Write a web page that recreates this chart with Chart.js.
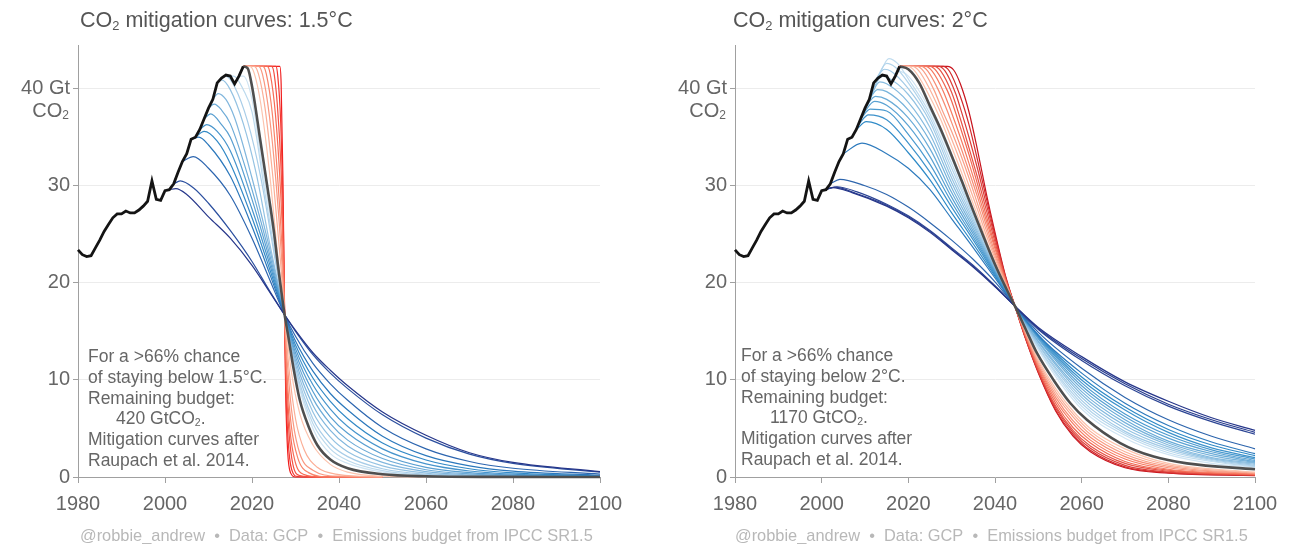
<!DOCTYPE html>
<html>
<head>
<meta charset="utf-8">
<script src="https://cdn.jsdelivr.net/npm/chart.js@4.4.1/dist/chart.umd.min.js"></script>
<style>
  body { margin: 0; background: #fff; }
  #wrap { position: relative; width: 1295px; height: 544px; background: #fff; font-family: "Liberation Sans", Arial, sans-serif; }
  canvas { position: absolute; top: 0; }
  .txt { position: absolute; white-space: nowrap; }
  .title { top: 8px; font-size: 21.5px; line-height: 24px; color: #555; }
  .note { font-size: 17.5px; line-height: 20.8px; color: #666; }
  .foot { top: 525px; font-size: 16.4px; line-height: 20px; color: #b8b8b8; }
  .unit { font-size: 20px; line-height: 22px; color: #666; text-align: right; width: 60px; }
  sub { font-size: 0.6em; vertical-align: -0.2em; line-height: 0; }
</style>
</head>
<body>
<div id="wrap">
  <canvas id="c15" width="647" height="544" style="left:0"></canvas>
  <canvas id="c20" width="648" height="544" style="left:647px"></canvas>

  <div class="txt title" style="left:80px">CO<sub>2</sub> mitigation curves: 1.5°C</div>
  <div class="txt title" style="left:733px">CO<sub>2</sub> mitigation curves: 2°C</div>

  <div class="txt unit" style="left:9px; top:99px">CO<sub>2</sub></div>
  <div class="txt unit" style="left:666px; top:99px">CO<sub>2</sub></div>

  <div class="txt note" style="left:88px; top:346px">For a &gt;66% chance<br>of staying below 1.5°C.<br>Remaining budget:<br><span style="padding-left:28px">420 GtCO<sub>2</sub>.</span><br>Mitigation curves after<br>Raupach et al. 2014.</div>
  <div class="txt note" style="left:741px; top:345px">For a &gt;66% chance<br>of staying below 2°C.<br>Remaining budget:<br><span style="padding-left:29px">1170 GtCO<sub>2</sub>.</span><br>Mitigation curves after<br>Raupach et al. 2014.</div>

  <div class="txt foot" style="left:80px">@robbie_andrew&nbsp;&nbsp;•&nbsp;&nbsp;Data: GCP&nbsp;&nbsp;•&nbsp;&nbsp;Emissions budget from IPCC SR1.5</div>
  <div class="txt foot" style="left:735px">@robbie_andrew&nbsp;&nbsp;•&nbsp;&nbsp;Data: GCP&nbsp;&nbsp;•&nbsp;&nbsp;Emissions budget from IPCC SR1.5</div>
</div>

<script>
// historical emissions, Gt CO2
const histYears = [1980,1981,1982,1983,1984,1985,1986,1987,1988,1989,1990,1991,1992,1993,1994,1995,1996,1997,1998,1999,
  2000,2001,2002,2003,2004,2005,2006,2007,2008,2009,2010,2011,2012,2013,2014,2015,2016,2017,2018];
const histValues = [23.4,22.9,22.7,22.8,23.6,24.4,25.3,26.0,26.7,27.1,27.1,27.4,27.2,27.2,27.5,27.9,28.4,30.5,28.6,28.5,
  29.5,29.6,30.2,31.4,32.5,33.3,34.8,35.0,35.8,36.9,38.0,38.9,40.6,41.1,41.4,41.3,40.5,41.3,42.3];

const xTicks = [1980, 2000, 2020, 2040, 2060, 2080, 2100];
const yTicks = [0, 10, 20, 30, 40];
const yTickLabels = { 40: "40 Gt" };

// 1.5°C: curves as [year, value], earliest start first
const blueCurves15 = [
  [[2001,29.6],[2002.5,29.7],[2005,29.1],[2010,26.8],[2015,24.6],[2020,21.8],[2024,19.1],[2027.5,16.7],[2030,15.1],[2034,12.8],[2038,11.0],[2042,9.4],[2050,6.7],[2060,4.3],[2070,2.5],[2080,1.5],[2100,0.55]],
  [[2002,30.2],[2003.5,30.5],[2006.5,29.8],[2010,28.2],[2015,25.4],[2020,22.2],[2024,19.2],[2027.5,16.7],[2030,15.0],[2034,12.6],[2038,10.7],[2042,9.1],[2050,6.4],[2060,4.0],[2070,2.35],[2080,1.4],[2100,0.5]],
  [[2004,32.5],[2006.5,33.0],[2010,31.8],[2015,29.0],[2020,24.6],[2024,20.4],[2027.5,16.7],[2030,14.5],[2034,11.7],[2038,9.6],[2042,7.9],[2050,5.1],[2060,2.9],[2070,1.6],[2080,0.9],[2100,0.3]],
  [[2006,34.8],[2007.8,35.0],[2010,34.2],[2015,31.0],[2020,25.8],[2024,21.0],[2027.5,16.7],[2030,14.0],[2034,10.9],[2038,8.6],[2042,6.9],[2050,4.2],[2060,2.2],[2070,1.15],[2080,0.6],[2100,0.18]],
  [[2007,35.0],[2009,35.6],[2012,34.6],[2015,32.3],[2020,26.7],[2024,21.5],[2027.5,16.7],[2030,13.6],[2034,10.2],[2038,7.8],[2042,6.0],[2050,3.5],[2060,1.75],[2070,0.85],[2080,0.42],[2100,0.1]],
  [[2008,35.8],[2009.6,36.3],[2012,35.6],[2015,33.6],[2020,27.6],[2024,22.0],[2027.5,16.7],[2030,13.2],[2034,9.5],[2038,7.0],[2042,5.2],[2050,2.9],[2060,1.35],[2070,0.62],[2080,0.3],[2100,0.07]],
  [[2009,36.9],[2010.5,37.4],[2013,36.3],[2015,35.0],[2020,28.6],[2024,22.5],[2027.5,16.7],[2030,12.8],[2034,8.8],[2038,6.2],[2042,4.5],[2050,2.35],[2060,1.0],[2070,0.45],[2080,0.2],[2100,0.05]],
  [[2010,38.0],[2011.3,38.4],[2013,37.8],[2015,36.4],[2020,29.6],[2024,23.0],[2027.5,16.7],[2030,12.4],[2034,8.1],[2038,5.5],[2042,3.8],[2050,1.9],[2060,0.75],[2070,0.32],[2080,0.14],[2100,0.03]],
  [[2011,38.9],[2012.2,39.5],[2014,38.9],[2016,37.0],[2020,30.8],[2024,23.6],[2027.5,16.7],[2030,12.0],[2034,7.4],[2038,4.8],[2042,3.2],[2050,1.5],[2060,0.55],[2070,0.22],[2080,0.09],[2100,0.02]],
  [[2012,40.6],[2013,40.9],[2015,39.9],[2018,36.4],[2021,31.2],[2024,24.2],[2027.5,16.7],[2030,11.6],[2034,6.7],[2038,4.1],[2042,2.6],[2050,1.15],[2060,0.4],[2070,0.15],[2080,0.06],[2100,0]],
  [[2013,41.1],[2014,41.3],[2016,40.2],[2019,36.6],[2022,30.9],[2025,23.2],[2027.5,16.7],[2030,11.2],[2034,6.0],[2038,3.4],[2042,2.1],[2050,0.85],[2060,0.28],[2070,0.1],[2100,0]],
  [[2015,41.3],[2015.8,41.3],[2018,39.9],[2020,37.6],[2023,29.2],[2025.5,22.4],[2027.5,16.7],[2030,10.9],[2034,5.5],[2038,2.9],[2042,1.7],[2050,0.65],[2060,0.2],[2070,0.07],[2100,0]],
  [[2017,41.3],[2018,41.3],[2020,38.9],[2022.5,31.5],[2025,24.6],[2026.5,20.0],[2027.5,16.7],[2030,10.7],[2034,5.0],[2038,2.4],[2042,1.4],[2050,0.5],[2060,0.15],[2070,0.05],[2100,0]]
];
// delayed starts, earliest delay first
const redCurves15 = [
  [[2018,42.3],[2019.5,42.3],[2020.5,41.6],[2022,38.5],[2024,31.5],[2026,22.5],[2027.5,16.7],[2029,11.0],[2031,6.5],[2034,3.3],[2038,1.3],[2042,0.5],[2050,0.08],[2060,0]],
  [[2018,42.3],[2020.5,42.3],[2021.5,41.5],[2023,38.0],[2025,30.0],[2026.5,22.5],[2027.5,16.7],[2028.5,11.2],[2030,6.0],[2032,2.8],[2035,1.0],[2040,0.25],[2050,0]],
  [[2018,42.3],[2021.5,42.3],[2022.4,41.5],[2024,37.2],[2025.5,30.5],[2026.8,22.6],[2027.5,16.7],[2028.2,11.3],[2029.4,5.8],[2031,2.4],[2034,0.7],[2040,0.08],[2050,0]],
  [[2018,42.3],[2022.5,42.3],[2023.3,41.5],[2024.7,37.3],[2026,30.2],[2027,22.7],[2027.5,16.7],[2028,11.0],[2029,5.4],[2030.5,2.0],[2033,0.45],[2038,0],[2050,0]],
  [[2018,42.3],[2023.5,42.3],[2024.2,41.5],[2025.4,37.3],[2026.5,30.0],[2027.2,22.8],[2027.5,16.7],[2027.9,10.8],[2028.7,5.0],[2029.9,1.6],[2032,0.25],[2036,0],[2050,0]],
  [[2018,42.3],[2024.5,42.3],[2025.1,41.5],[2026,37.2],[2026.9,29.0],[2027.5,16.7],[2027.8,10.5],[2028.5,4.6],[2029.4,1.3],[2031,0.15],[2034,0],[2050,0]],
  [[2018,42.3],[2025.5,42.3],[2025.9,41.4],[2026.6,36.5],[2027.2,26.0],[2027.5,16.7],[2027.75,9.8],[2028.3,3.8],[2029.1,0.8],[2030.5,0.05],[2033,0],[2050,0]],
  [[2018,42.3],[2026.4,42.3],[2026.7,40.5],[2027.1,31.0],[2027.5,16.7],[2027.75,8.5],[2028.2,2.6],[2028.9,0.4],[2030,0],[2050,0]]
];
const grayCurve15 = [[2018,42.3],[2019,42.1],[2020,40.25],[2022,34.4],[2024,28.5],[2025,25.4],[2026,21.7],[2027.5,16.7],[2028.3,14.6],[2029.5,11.3],[2031,7.9],[2033,5.2],[2035,3.3],[2038,1.8],[2042,0.9],[2050,0.28],[2060,0.07],[2075,0.01],[2100,0]];

// 2°C
const blueCurves20 = [
  [[2000,29.5],[2002.5,29.8],[2007,29.3],[2015,27.9],[2020,26.7],[2025,25.2],[2030,23.4],[2035,21.6],[2040,19.6],[2044.6,17.6],[2050,15.4],[2060,12.4],[2070,9.8],[2080,7.8],[2090,6.1],[2100,4.8]],
  [[2000.5,29.55],[2003,29.85],[2008,29.2],[2015,28.0],[2020,26.8],[2025,25.3],[2030,23.5],[2035,21.7],[2040,19.65],[2044.6,17.6],[2050,15.3],[2060,12.2],[2070,9.6],[2080,7.5],[2090,5.9],[2100,4.6]],
  [[2001,29.6],[2003.5,29.9],[2008,29.4],[2015,28.1],[2020,26.9],[2025,25.4],[2030,23.6],[2035,21.8],[2040,19.7],[2044.6,17.6],[2050,15.2],[2060,12.0],[2070,9.4],[2080,7.3],[2090,5.7],[2100,4.4]],
  [[2002,30.2],[2004.2,30.65],[2010,30.0],[2015,29.1],[2020,27.8],[2025,26.2],[2030,24.4],[2035,22.4],[2040,20.1],[2044.6,17.6],[2050,14.9],[2060,11.2],[2070,8.2],[2080,5.9],[2090,4.2],[2100,2.9]],
  [[2005,33.3],[2009.3,34.4],[2015,33.3],[2020,31.8],[2025,29.6],[2030,26.6],[2035,23.6],[2040,20.5],[2044.6,17.6],[2050,14.6],[2060,10.7],[2070,7.6],[2080,5.3],[2090,3.6],[2100,2.4]],
  [[2008,35.8],[2010.3,36.6],[2015,35.8],[2020,33.4],[2025,30.6],[2030,27.2],[2035,24.0],[2040,20.7],[2044.6,17.6],[2050,14.6],[2060,10.3],[2070,7.2],[2080,4.9],[2090,3.3],[2100,2.2]],
  [[2008.5,36.3],[2010.8,37.3],[2015,36.8],[2020,34.4],[2025,31.4],[2030,27.8],[2035,24.4],[2040,20.85],[2044.6,17.6],[2050,14.5],[2060,10.0],[2070,6.9],[2080,4.6],[2090,3.0],[2100,2.0]],
  [[2009,36.9],[2011.2,37.9],[2015,37.7],[2020,35.3],[2025,32.2],[2030,28.3],[2035,24.7],[2040,21.0],[2044.6,17.6],[2050,14.4],[2060,9.7],[2070,6.5],[2080,4.3],[2090,2.8],[2100,1.85]],
  [[2009.5,37.4],[2012.2,38.7],[2015,38.3],[2020,36.2],[2025,33.0],[2030,28.8],[2035,25.0],[2040,21.1],[2044.6,17.6],[2050,14.3],[2060,9.4],[2070,6.2],[2080,4.0],[2090,2.6],[2100,1.7]],
  [[2010,38.0],[2012.4,39.2],[2015,38.9],[2020,37.0],[2025,33.8],[2030,29.3],[2035,25.3],[2040,21.2],[2044.6,17.6],[2050,14.2],[2060,9.1],[2070,5.9],[2080,3.7],[2090,2.4],[2100,1.6]],
  [[2010.5,38.5],[2012.9,39.9],[2015,39.7],[2020,37.8],[2025,34.6],[2030,29.8],[2035,25.6],[2040,21.3],[2044.6,17.6],[2050,14.0],[2060,8.8],[2070,5.6],[2080,3.5],[2090,2.2],[2100,1.5]],
  [[2011,38.9],[2013.4,40.7],[2015,40.5],[2020,38.6],[2025,35.3],[2030,30.3],[2035,25.9],[2040,21.4],[2044.6,17.6],[2050,13.9],[2060,8.5],[2070,5.3],[2080,3.3],[2090,2.0],[2100,1.4]],
  [[2011.5,39.7],[2014,41.3],[2015,41.2],[2020,39.4],[2025,36.0],[2030,30.8],[2035,26.2],[2040,21.5],[2044.6,17.6],[2050,13.7],[2060,8.2],[2070,5.0],[2080,3.1],[2090,1.9],[2100,1.3]],
  [[2012,40.6],[2014.5,42.0],[2016,41.8],[2020,40.0],[2025,36.6],[2030,31.3],[2035,26.5],[2040,21.6],[2044.6,17.6],[2050,13.6],[2060,7.9],[2070,4.7],[2080,2.9],[2090,1.8],[2100,1.2]],
  [[2012.5,40.9],[2015,42.6],[2017,42.2],[2020,40.6],[2025,37.0],[2030,31.8],[2035,26.8],[2040,21.7],[2044.6,17.6],[2050,13.4],[2060,7.6],[2070,4.5],[2080,2.7],[2090,1.7],[2100,1.1]],
  [[2013,41.1],[2015.5,43.1],[2017.5,42.6],[2020,41.0],[2025,37.4],[2030,32.3],[2035,27.0],[2040,21.8],[2044.6,17.6],[2050,13.3],[2060,7.3],[2070,4.3],[2080,2.5],[2090,1.6],[2100,1.05]],
  [[2016,40.5],[2017.5,41.8],[2020,41.3],[2025,37.8],[2030,32.8],[2035,27.2],[2040,21.85],[2044.6,17.6],[2050,13.1],[2060,7.0],[2070,4.0],[2080,2.3],[2090,1.4],[2100,1.0]]
];
const redCurves20 = [
  [[2018,42.3],[2020,42.3],[2021.5,41.8],[2024,40.0],[2027.5,36.8],[2030,34.0],[2032,31.7],[2034,29.3],[2036,26.9],[2038,24.4],[2040,22.2],[2042.5,19.6],[2044.6,17.6],[2047,15.1],[2050,12.1],[2054,9.1],[2058,6.8],[2062,5.0],[2070,2.9],[2080,1.4],[2100,0.5]],
  [[2018,42.3],[2021,42.3],[2022.5,41.8],[2025,39.9],[2027.5,37.5],[2030,34.8],[2032,32.5],[2034,30.0],[2036,27.5],[2038,24.9],[2040,22.5],[2042.5,19.8],[2044.6,17.6],[2047,15.0],[2050,11.9],[2054,8.8],[2058,6.5],[2062,4.7],[2070,2.6],[2080,1.25],[2100,0.45]],
  [[2018,42.3],[2022,42.3],[2023.5,41.8],[2026,39.8],[2028,37.6],[2030,35.6],[2032,33.3],[2034,30.8],[2036,28.1],[2038,25.4],[2040,22.8],[2042.5,19.9],[2044.6,17.6],[2047,14.9],[2050,11.7],[2054,8.5],[2058,6.2],[2062,4.4],[2070,2.35],[2080,1.1],[2100,0.4]],
  [[2018,42.3],[2023,42.3],[2024.5,41.8],[2027,39.8],[2029,37.7],[2030,36.5],[2032,34.1],[2034,31.5],[2036,28.8],[2038,25.9],[2040,23.1],[2042.5,20.0],[2044.6,17.6],[2047,14.8],[2050,11.5],[2054,8.2],[2058,5.8],[2062,4.1],[2070,2.1],[2080,0.95],[2100,0.35]],
  [[2018,42.3],[2024,42.3],[2025.5,41.8],[2028,39.8],[2030,37.5],[2032,35.0],[2034,32.3],[2036,29.4],[2038,26.4],[2040,23.5],[2042.5,20.1],[2044.6,17.6],[2047,14.7],[2050,11.4],[2054,7.9],[2058,5.5],[2062,3.8],[2070,1.85],[2080,0.8],[2100,0.3]],
  [[2018,42.3],[2025,42.3],[2026.5,41.8],[2029,39.8],[2030,38.7],[2032,36.0],[2034,33.2],[2036,30.1],[2038,26.9],[2040,23.8],[2042.5,20.2],[2044.6,17.6],[2047,14.6],[2050,11.2],[2054,7.6],[2058,5.1],[2062,3.5],[2070,1.6],[2080,0.7],[2100,0.25]],
  [[2018,42.3],[2026,42.3],[2027.5,41.8],[2030,39.6],[2032,36.9],[2034,33.9],[2036,30.8],[2038,27.5],[2040,24.2],[2042.5,20.3],[2044.6,17.6],[2047,14.5],[2050,11.0],[2054,7.3],[2058,4.8],[2062,3.2],[2070,1.4],[2080,0.6],[2100,0.22]],
  [[2018,42.3],[2027,42.3],[2028.5,41.8],[2031,39.4],[2032,38.0],[2034,35.0],[2036,31.7],[2038,28.1],[2040,24.6],[2042.5,20.4],[2044.6,17.6],[2047,14.4],[2050,10.9],[2054,7.1],[2058,4.6],[2062,2.95],[2070,1.2],[2080,0.5],[2100,0.2]],
  [[2018,42.3],[2028,42.3],[2029.5,41.8],[2032,39.2],[2034,36.3],[2036,32.6],[2038,28.7],[2040,24.9],[2042.5,20.5],[2044.6,17.6],[2047,14.35],[2050,10.8],[2054,6.9],[2058,4.4],[2062,2.75],[2070,1.05],[2080,0.45],[2100,0.17]],
  [[2018,42.3],[2029,42.3],[2030.5,41.9],[2032,40.5],[2034,37.6],[2036,33.6],[2038,29.2],[2040,25.2],[2042.5,20.6],[2044.6,17.6],[2047,14.3],[2050,10.7],[2054,6.8],[2058,4.2],[2062,2.6],[2070,0.95],[2080,0.4],[2100,0.15]]
];
const grayCurve20 = [[2018,42.3],[2020,42.0],[2022.5,40.6],[2025,38.2],[2027.5,35.8],[2030,33.1],[2032.5,30.3],[2035,27.4],[2037.5,24.6],[2040,21.9],[2042.5,19.5],[2044.6,17.6],[2047,15.3],[2049.7,12.75],[2053.5,10.0],[2057.4,7.6],[2061.2,5.9],[2068.9,3.5],[2076.6,2.1],[2084.3,1.4],[2100,0.8]];

// colour ramps (styles only)
function hexToRgb(h) {
  const n = parseInt(h.slice(1), 16);
  return [(n >> 16) & 255, (n >> 8) & 255, n & 255];
}
function ramp(stops, n) {
  const out = [];
  for (let i = 0; i < n; i++) {
    const t = n === 1 ? 0 : i / (n - 1);
    let k = 0;
    while (k < stops.length - 2 && t > stops[k + 1][0]) k++;
    const [t0, c0] = stops[k], [t1, c1] = stops[k + 1];
    const f = Math.min(1, Math.max(0, (t - t0) / (t1 - t0)));
    const a = hexToRgb(c0), b = hexToRgb(c1);
    out.push("rgb(" + a.map((v, j) => Math.round(v + (b[j] - v) * f)).join(",") + ")");
  }
  return out;
}

function toXY(pairs) {
  return pairs.map(p => ({ x: p[0], y: p[1] }));
}

function line(pairs, color, width, smooth) {
  return {
    data: toXY(pairs),
    borderColor: color,
    borderWidth: width,
    pointRadius: 0,
    fill: false,
    clip: false,
    cubicInterpolationMode: smooth ? "monotone" : "default",
    tension: 0
  };
}

function makeChart(id, blues, reds, gray, blueColors, redColors, axisWidth, rightPad) {
  const hist = histYears.map((y, i) => [y, histValues[i]]);
  const datasets = [line(hist, "#141414", 2.8, false), line(gray, "#4f4f4f", 2.6, true)];
  reds.forEach((c, i) => datasets.push(line(c, redColors[i], 1.2, true)));
  blues.forEach((c, i) => datasets.push(line(c, blueColors[i], 1.2, true)));

  new Chart(document.getElementById(id), {
    type: "line",
    data: { datasets },
    options: {
      responsive: false,
      animation: false,
      devicePixelRatio: 1,
      layout: { padding: { top: 45, right: rightPad, bottom: 0, left: 0 } },
      plugins: { legend: { display: false }, tooltip: { enabled: false } },
      scales: {
        x: {
          type: "linear",
          min: 1980,
          max: 2100,
          afterFit: s => { s.height = 67; },
          afterBuildTicks: s => { s.ticks = xTicks.map(v => ({ value: v })); },
          grid: { drawOnChartArea: false, tickLength: 6, tickColor: "#a0a0a0" },
          border: { color: "#a0a0a0" },
          ticks: {
            color: "#666",
            font: { family: "Liberation Sans", size: 20 },
            padding: 9,
            maxRotation: 0,
            callback: v => String(v)
          }
        },
        y: {
          min: 0,
          max: 44.5,
          afterFit: s => { s.width = axisWidth; },
          afterBuildTicks: s => { s.ticks = yTicks.map(v => ({ value: v })); },
          grid: { color: "#ececec", tickLength: 5, tickColor: "#a0a0a0" },
          border: { color: "#a0a0a0" },
          ticks: {
            color: "#666",
            font: { family: "Liberation Sans", size: 20 },
            padding: 3,
            callback: v => yTickLabels[v] || String(v)
          }
        }
      }
    }
  });
}

const blueStops15 = [[0, "#26368a"], [0.12, "#2d5aa8"], [0.3, "#2a84c4"], [1, "#cfe4f3"]];
const blueStops20 = [[0, "#26368a"], [0.13, "#2b4594"], [0.2, "#2e6cb3"], [0.3, "#2b88c6"], [1, "#cfe4f3"]];

makeChart("c15", blueCurves15, redCurves15, grayCurve15,
  ramp(blueStops15, blueCurves15.length),
  ramp([[0, "#fcc3ad"], [0.5, "#f9785e"], [1, "#f01e1e"]], redCurves15.length),
  78, 47);

makeChart("c20", blueCurves20, redCurves20, grayCurve20,
  ramp(blueStops20, blueCurves20.length),
  ramp([[0, "#fcc3ad"], [0.5, "#f57158"], [1, "#c8141e"]], redCurves20.length),
  88, 40);
</script>
</body>
</html>
